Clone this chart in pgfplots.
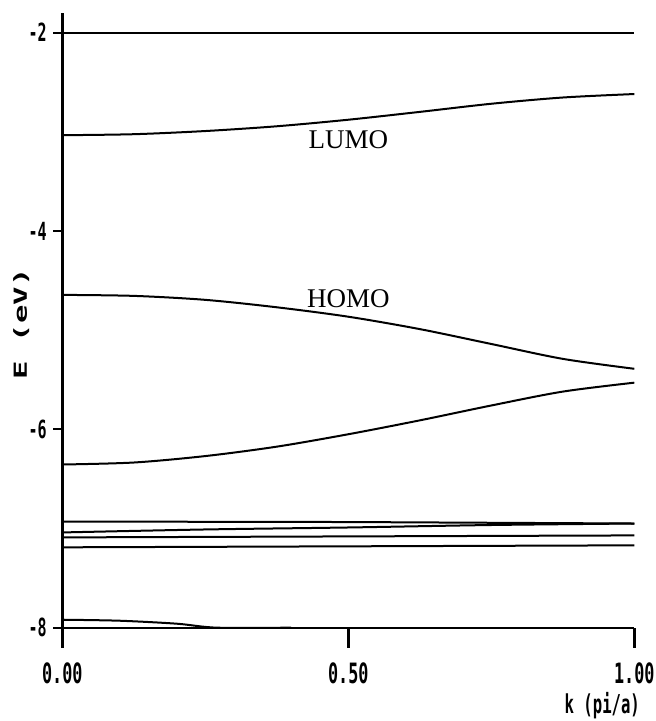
\documentclass[border=0pt]{standalone}
\usepackage{fontspec}
\setmainfont{Liberation Serif}
\newfontfamily\tickfont[FakeStretch=0.6]{DejaVu Sans Mono}
\newfontfamily\ylabfont[FakeStretch=1.7]{DejaVu Sans Mono}
\usepackage{pgfplots}
\pgfplotsset{compat=1.18}
\begin{document}
\begin{tikzpicture}
\begin{axis}[
    name=ax,
    scale only axis,
    width=286pt, height=317.4pt,
    xmin=0, xmax=1,
    ymin=-8.2, ymax=-1.8,
    axis y line*=left,
    axis x line*=bottom,
    x axis line style={draw=none},
    y axis line style={line width=1.3pt},
    xtick={0,0.5,1},
    xticklabels={0.00,0.50,1.00},
    ytick={-2,-4,-6,-8},
    yticklabels={-2,-4,-6,-8},
    xtick align=inside,
    ytick align=outside,
    xtick style={draw=black, line width=1.2pt, /pgfplots/major tick length=10pt},
    ytick style={draw=black, line width=1pt, /pgfplots/major tick length=4.5pt},
    xticklabel style={font=\fontsize{14}{14}\selectfont\tickfont\bfseries, anchor=center, yshift=-13pt},
    yticklabel style={font=\fontsize{12.5}{12.5}\selectfont\tickfont\bfseries},
    xlabel={k (pi/a)},
    xlabel style={font=\fontsize{13}{13}\selectfont\tickfont\bfseries, at={(rel axis cs:1.022,-0.092)}, anchor=east},
    ylabel={E (eV)},
    ylabel style={font=\fontsize{9}{9}\selectfont\ylabfont\bfseries, at={(rel axis cs:-0.072,0.51)}, anchor=center},
    clip=false,
]
% flat band at -2
\addplot[black, line width=1pt] coordinates {(0,-2.0) (1,-2.0)};
% LUMO
\addplot[black, line width=1pt, smooth] coordinates {
    (0,-3.035) (0.125,-3.025) (0.25,-2.993) (0.375,-2.945) (0.5,-2.879)
    (0.625,-2.800) (0.75,-2.718) (0.875,-2.655) (1,-2.62)};
% HOMO
\addplot[black, line width=1pt, smooth] coordinates {
    (0,-4.645) (0.125,-4.655) (0.25,-4.695) (0.375,-4.77) (0.5,-4.865)
    (0.625,-4.99) (0.75,-5.14) (0.875,-5.29) (1,-5.39)};
% band below HOMO
\addplot[black, line width=1pt, smooth] coordinates {
    (0,-6.355) (0.125,-6.335) (0.25,-6.27) (0.375,-6.175) (0.5,-6.05)
    (0.625,-5.91) (0.75,-5.76) (0.875,-5.62) (1,-5.53)};
% flat bands near -7
\addplot[black, line width=1pt] coordinates {(0,-6.93) (0.5,-6.935) (1,-6.95)};
\addplot[black, line width=1pt, smooth] coordinates {(0,-7.04) (0.25,-7.01) (0.5,-6.99) (0.75,-6.965) (1,-6.95)};
\addplot[black, line width=1pt] coordinates {(0,-7.09) (1,-7.07)};
\addplot[black, line width=1pt] coordinates {(0,-7.19) (1,-7.17)};
% bands near -8
\addplot[black, line width=1pt, smooth] coordinates {(0,-7.92) (0.1,-7.93) (0.2,-7.96) (0.27,-8.0) (0.4,-8.0)};
\addplot[black, line width=1pt] coordinates {(0,-8.0) (1,-8.0)};
\node[font=\fontsize{13.5}{13.5}\selectfont] at (axis cs:0.5,-3.08) {LUMO};
\node[font=\fontsize{13.5}{13.5}\selectfont] at (axis cs:0.5,-4.68) {HOMO};
\end{axis}
\pgfresetboundingbox
\path[use as bounding box] ([shift={(-31.15pt,-36.75pt)}]ax.south west) rectangle ++(327.5pt,360.5pt);
\end{tikzpicture}
\end{document}
